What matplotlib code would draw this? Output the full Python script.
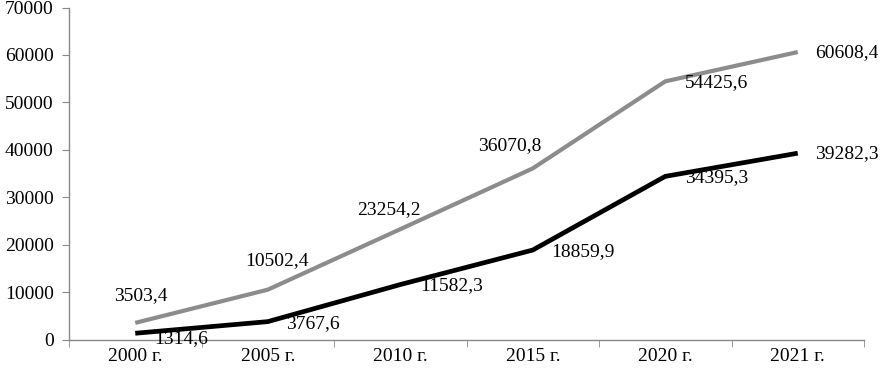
import matplotlib.pyplot as plt
import numpy as np

plt.rcParams['font.family'] = ['Liberation Serif', 'DejaVu Serif']

# Data
years = ['2000 г.', '2005 г.', '2010 г.', '2015 г.', '2020 г.', '2021 г.']
grey_vals = [3503.4, 10502.4, 23254.2, 36070.8, 54425.6, 60608.4]
black_vals = [1314.6, 3767.6, 11582.3, 18859.9, 34395.3, 39282.3]

# label offsets (pixels) of label centre relative to the point
grey_off = [(6, 27), (9, 29), (-11, 20), (-23, 23), (51, -1), (49, -1)]
black_off = [(46, -5), (45, -2), (51, -1), (50, -2), (51, -1), (49, 0)]

fig = plt.figure(figsize=(8.8, 3.71), dpi=100)
ax = fig.add_axes([69 / 880, 1 - 339.5 / 371, (864 - 69) / 880, (339.5 - 7.5) / 371])

x = np.arange(len(years))
ax.plot(x, grey_vals, color='#8c8c8c', lw=3.0, solid_capstyle='butt', zorder=3)
ax.plot(x, black_vals, color='black', lw=3.4, solid_capstyle='butt', zorder=3)


def fmt(v):
    return f'{v:.1f}'.replace('.', ',')


for xi, v, off in zip(x, grey_vals, grey_off):
    ax.annotate(fmt(v), (xi, v), xytext=off, textcoords='offset pixels',
                ha='center', va='center', fontsize=14, zorder=4)
for xi, v, off in zip(x, black_vals, black_off):
    ax.annotate(fmt(v), (xi, v), xytext=off, textcoords='offset pixels',
                ha='center', va='center', fontsize=14, zorder=4)

ax.set_xlim(-0.5, len(years) - 0.5)
ax.set_ylim(0, 70000)
ax.set_yticks(np.arange(0, 70001, 10000))
ax.set_yticklabels([str(v) for v in range(0, 70001, 10000)], fontsize=14)
ax.set_xticks(x)
ax.set_xticklabels(years, fontsize=14)
ax.set_xticks(np.arange(-0.5, len(years)), minor=True)

axis_col = '#888888'
for s in ['top', 'right']:
    ax.spines[s].set_visible(False)
for s in ['left', 'bottom']:
    ax.spines[s].set_color(axis_col)
    ax.spines[s].set_linewidth(1.0)

ax.tick_params(axis='y', direction='out', length=5, color=axis_col, pad=6)
ax.tick_params(axis='x', which='major', length=0, pad=6)
ax.tick_params(axis='x', which='minor', direction='out', length=5, color=axis_col)

fig.savefig('out.png', dpi=100)
